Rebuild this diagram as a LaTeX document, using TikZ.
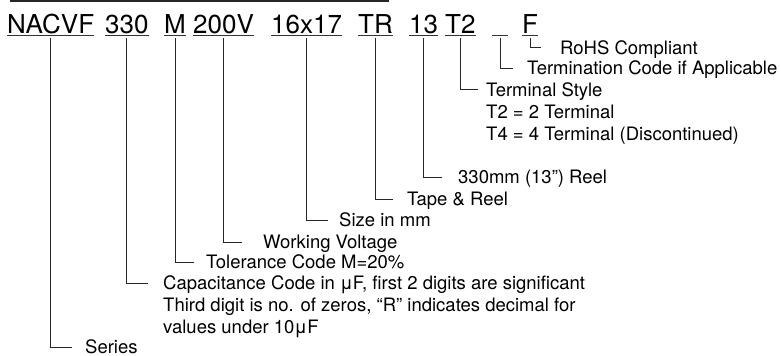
\documentclass[tikz,border=0pt]{standalone}
\usepackage{fontspec}
\setmainfont{TeX Gyre Heros}
\begin{document}
\begin{tikzpicture}[x=1pt,y=-1pt,
  ttl/.style={inner sep=0pt, anchor=base west, font=\fontsize{26}{30}\selectfont},
  lbl/.style={inner sep=0pt, anchor=base west, font=\fontsize{18.5}{22}\selectfont},
  ln/.style={line width=0.9pt, draw=black!85},
  ul/.style={line width=1.2pt, draw=black!80}]
\useasboundingbox (0,0) rectangle (780,356);
% top rule
\coordinate (r1) at (10,1.2);
\coordinate (r2) at (389,1.2);
\draw[line width=2pt, black!85] (r1) -- (r2);
% title parts
\node[ttl] (t1) at (7,33) {NACVF};
\node[ttl] (t2) at (105,33) {330};
\node[ttl] (t3) at (164,33) {M};
\node[ttl] (t4) at (193,33) {200V};
\node[ttl] (t5) at (271,33) {16x17};
\node[ttl] (t6) at (358,33) {TR};
\node[ttl] (t7) at (409,33) {13};
\node[ttl] (t8) at (445,33) {T2};
\node[ttl, minimum width=16pt] (t9) at (492,33) {};
\node[ttl] (t10) at (522,33) {F};
\foreach \n in {t1,t2,t3,t4,t5,t6,t7,t8,t9,t10}
  \draw[ul] ([yshift=-2.5pt]\n.base west) -- ([yshift=-2.5pt]\n.base east);
% labels
\node[lbl] (s1) at (85,353) {Series};
\node[lbl] (s2) at (163,289) {Capacitance Code in μF, first 2 digits are significant};
\node[lbl] (s2b) at (163,311) {Third digit is no. of zeros, “R” indicates decimal for};
\node[lbl] (s2c) at (163,333) {values under 10μF};
\node[lbl] (s3) at (206,268) {Tolerance Code M=20\%};
\node[lbl] (s4) at (263,248) {Working Voltage};
\node[lbl] (s5) at (339,226) {Size in mm};
\node[lbl] (s6) at (407,205) {Tape \& Reel};
\node[lbl] (s7) at (458,183) {330mm (13”) Reel};
\node[lbl] (s8) at (486,96) {Terminal Style};
\node[lbl] (s8b) at (486,118.5) {T2 = 2 Terminal};
\node[lbl] (s8c) at (486,140.5) {T4 = 4 Terminal (Discontinued)};
\node[lbl] (s9) at (527,74.5) {Termination Code if Applicable};
\node[lbl] (s10) at (560,54.5) {RoHS Compliant};
% tick ends
\coordinate (e1) at (72,347.5);
\coordinate (e2) at (148,283);
\coordinate (e3) at (194,262);
\coordinate (e4) at (242,242);
\coordinate (e5) at (328,220);
\coordinate (e6) at (393,199);
\coordinate (e7) at (442,177);
\coordinate (e8) at (478,89);
\coordinate (e9) at (513,68.5);
\coordinate (e10) at (541,47.5);
\foreach \i in {1,...,10}
  \draw[ln] ([yshift=-5pt]t\i.base) |- (e\i);
\end{tikzpicture}
\end{document}
